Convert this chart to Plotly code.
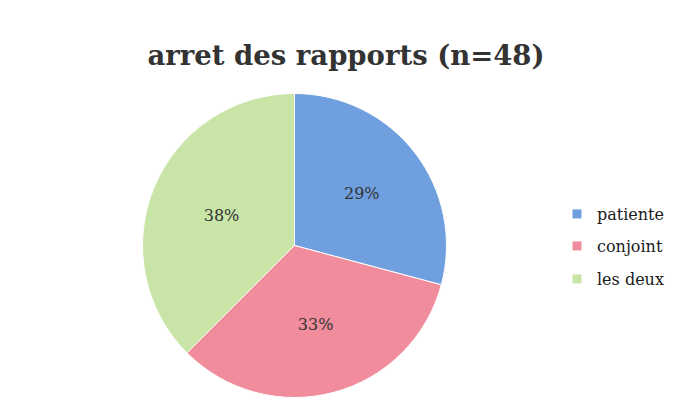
import plotly.graph_objects as go

labels = ["patiente", "conjoint", "les deux"]
values = [14, 16, 18]
colors = ["#6f9fdf", "#f08c9b", "#c9e4a7"]
title = "arret des rapports (n=48)"

W, H = 675, 413
OFF = 8  # page body margin
cx, cy, r = 294.5 - OFF, 245.5 - OFF, 152

fig = go.Figure(go.Pie(
    labels=labels,
    values=values,
    sort=False,
    direction="clockwise",
    rotation=0,
    marker=dict(colors=colors, line=dict(color="white", width=1)),
    texttemplate="%{percent:.0%}",
    textposition="inside",
    insidetextorientation="horizontal",
    textfont=dict(family="DejaVu Serif", size=16, color="#333333"),
    domain=dict(x=[(cx - r) / W, (cx + r) / W], y=[(H - cy - r) / H, (H - cy + r) / H]),
    hoverinfo="label+percent",
    showlegend=False,
))

# legend entries (one legend per entry, for the wide spacing of the original)
legend_names = ["legend", "legend2", "legend3"]
legend_y = [214 - OFF, 246 - OFF, 279 - OFF]
for lab, col, lg in zip(labels, colors, legend_names):
    fig.add_trace(go.Scatter(
        x=[None], y=[None], mode="markers", name=lab,
        marker=dict(symbol="square", size=9, color=col),
        legend=lg, showlegend=True, hoverinfo="skip",
    ))

leg_common = dict(
    x=(589 - OFF - 40 + 8) / W, xanchor="left", yanchor="middle",
    font=dict(family="DejaVu Serif", size=16, color="#1a1a1a"),
    bgcolor="rgba(0,0,0,0)",
)

fig.update_layout(
    width=W, height=H,
    margin=dict(l=0, r=0, t=0, b=0, autoexpand=False),
    paper_bgcolor="white",
    plot_bgcolor="white",
    xaxis=dict(visible=False),
    yaxis=dict(visible=False),
    title=dict(
        text="<b>" + title + "</b>",
        x=(346 - OFF) / W, xanchor="center",
        y=1 - (55 - OFF) / H, yanchor="middle",
        font=dict(family="DejaVu Serif", size=27.5, color="#333333"),
    ),
    legend=dict(y=1 - legend_y[0] / H, **leg_common),
    legend2=dict(y=1 - legend_y[1] / H, **leg_common),
    legend3=dict(y=1 - legend_y[2] / H, **leg_common),
)

fig.write_html("out.html")
